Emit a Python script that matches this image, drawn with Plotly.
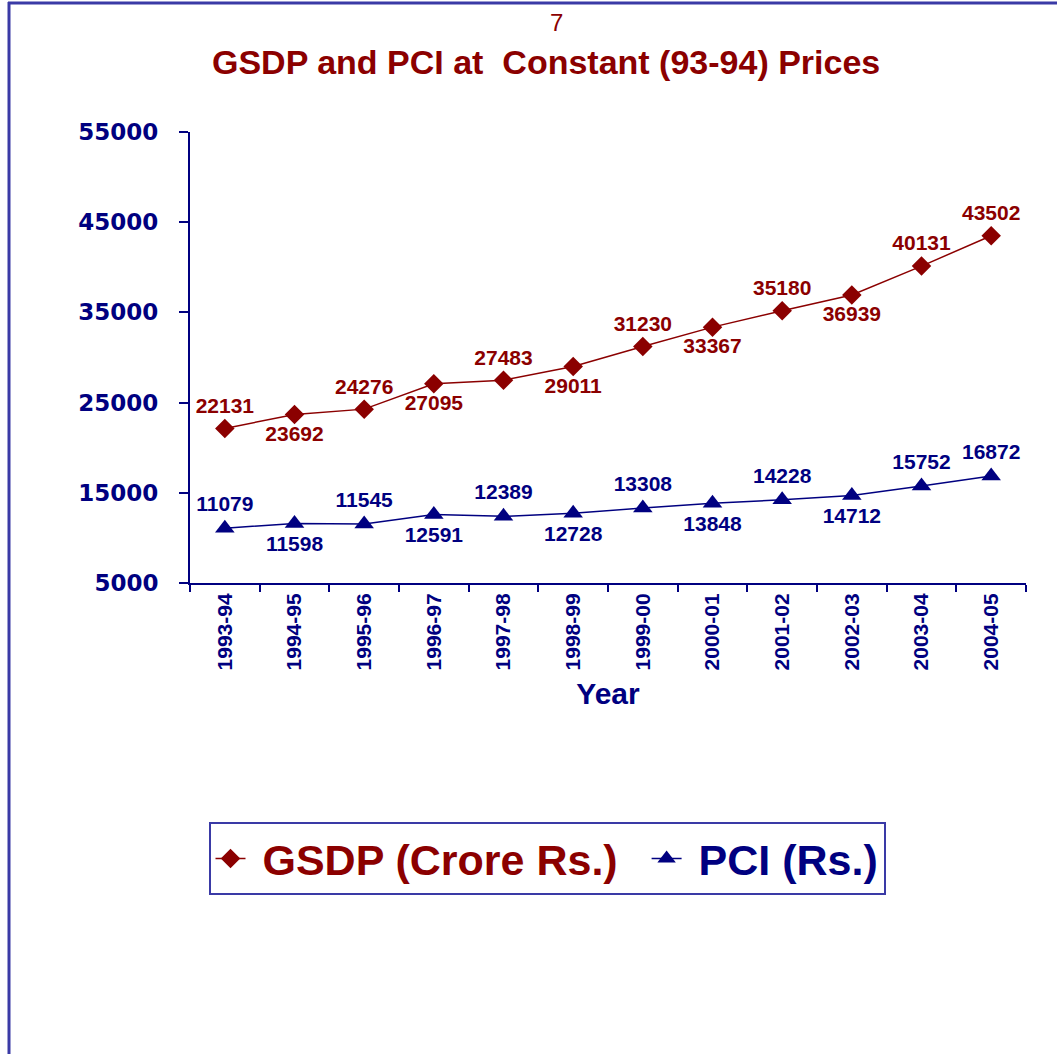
import plotly.graph_objects as go

years = ["1993-94", "1994-95", "1995-96", "1996-97", "1997-98", "1998-99",
         "1999-00", "2000-01", "2001-02", "2002-03", "2003-04", "2004-05"]
gsdp = [22131, 23692, 24276, 27095, 27483, 29011, 31230, 33367, 35180, 36939, 40131, 43502]
pci = [11079, 11598, 11545, 12591, 12389, 12728, 13308, 13848, 14228, 14712, 15752, 16872]
gsdp_label_pos = ["top center", "bottom center"] * 5 + ["top center", "top center"]
pci_label_pos = ["top center", "bottom center"] * 5 + ["top center", "top center"]

RED = "#8B0000"
NAVY = "#000080"
BORDER = "#3A3AA6"
LBL_FONT = "Liberation Sans Narrow, Arial Narrow, Liberation Sans, Arial"
FONT = "Liberation Sans, Arial"

# plot area in pixels
L, R, T, B = 190, 1026, 132, 583
W, H = 1057, 1054


def px(x):
    return (x - L) / (R - L)


def py(y):
    return (B - y) / (B - T)


NB = "\u00a0"

fig = go.Figure()
fig.add_trace(go.Scatter(
    x=years, y=gsdp, mode="lines+markers+text",
    name=NB + "<span style='color:%s'>GSDP (Crore Rs.)</span>" % RED + NB * 2,
    line=dict(color=RED, width=1.5),
    marker=dict(symbol="diamond", size=15, color=RED),
    text=[str(v) for v in gsdp], textposition=gsdp_label_pos,
    textfont=dict(family=LBL_FONT, size=21, color=RED, weight="bold"),
    cliponaxis=False,
))
fig.add_trace(go.Scatter(
    x=years, y=pci, mode="lines+markers+text",
    name=NB + "<span style='color:%s'>PCI (Rs.)</span>" % NAVY,
    line=dict(color=NAVY, width=1.5),
    marker=dict(symbol="triangle-up", size=17, color=NAVY),
    text=[str(v) for v in pci], textposition=pci_label_pos,
    textfont=dict(family=LBL_FONT, size=21, color=NAVY, weight="bold"),
    cliponaxis=False,
))

fig.update_layout(
    width=W, height=H,
    margin=dict(l=L, r=W - R, t=T, b=H - B, autoexpand=False),
    paper_bgcolor="white", plot_bgcolor="white",
    showlegend=True,
    legend=dict(
        orientation="h", x=px(547), xanchor="center", y=py(822), yanchor="top",
        bordercolor=BORDER, borderwidth=2, bgcolor="white",
        font=dict(family=FONT, size=43, color=NAVY, weight="bold"),
        itemclick=False,
    ),
    xaxis=dict(
        type="category", tickangle=-90, tickson="boundaries",
        ticks="outside", ticklen=7, tickcolor=NAVY, tickwidth=2,
        showline=True, linecolor=NAVY, linewidth=2, showgrid=False,
        tickfont=dict(family=FONT, size=21, color=NAVY, weight="bold"),
        title=dict(text="Year", standoff=14,
                   font=dict(family=FONT, size=30, color=NAVY, weight="bold")),
        range=[-0.5, 11.5], fixedrange=True,
    ),
    yaxis=dict(
        range=[5000, 55000], tick0=5000, dtick=10000, tickformat="d",
        ticks="outside", ticklen=9, tickcolor=NAVY, tickwidth=2,
        showline=True, linecolor=NAVY, linewidth=2, showgrid=False,
        zeroline=False, ticklabelstandoff=16,
        tickfont=dict(family="DejaVu Sans, Verdana", size=23, color=NAVY, weight="bold"),
        fixedrange=True,
    ),
    annotations=[
        dict(text="7", xref="paper", yref="paper", x=px(556), y=py(22),
             showarrow=False, xanchor="center", yanchor="middle",
             font=dict(family=LBL_FONT, size=24, color=RED)),
        dict(text="GSDP and PCI at  Constant (93-94) Prices", xref="paper", yref="paper",
             x=px(546), y=py(62), showarrow=False, xanchor="center", yanchor="middle",
             font=dict(family=FONT, size=34, color=RED, weight="bold")),
    ],
    shapes=[
        dict(type="line", xref="paper", yref="paper", x0=px(8), x1=px(W + 5),
             y0=py(3), y1=py(3), line=dict(color=BORDER, width=3)),
        dict(type="line", xref="paper", yref="paper", x0=px(9), x1=px(9),
             y0=py(2), y1=py(H + 5), line=dict(color=BORDER, width=3)),
    ],
)

fig.write_html("out.html", config={"displayModeBar": False},
               post_script="document.body.style.margin='0';document.body.style.overflow='hidden';")
